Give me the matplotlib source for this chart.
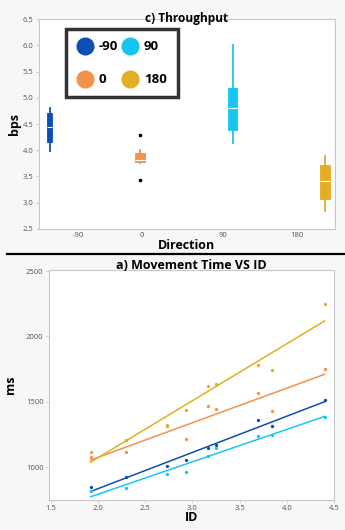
"""Throughput box plot and movement time vs ID, two stacked JMP-style panels."""

import matplotlib.pyplot as plt
import numpy as np
from matplotlib.lines import Line2D

# ---- data -------------------------------------------------------------
directions = ["-90", "0", "90", "180"]
colors = ["#0b4eb6", "#f3924b", "#17c6f0", "#e5ad24"]  # -90, 0, 90, 180

# throughput (bps) box statistics per direction
tp_whislo = [3.99, 3.75, 4.14, 2.84]
tp_q1 = [4.16, 3.77, 4.38, 3.08]
tp_med = [4.44, 3.81, 4.81, 3.41]
tp_q3 = [4.71, 3.94, 5.19, 3.71]
tp_whishi = [4.81, 4.00, 6.00, 3.89]
tp_fliers = [[], [4.29, 3.43], [], []]

# movement time (ms) vs index of difficulty
ids = [1.92, 2.30, 2.73, 2.93, 3.16, 3.25, 3.70, 3.84, 4.40]
mt_m90 = [849, 926, 1010, 1054, 1146, 1171, 1363, 1317, 1516]
mt_0 = [1081, 1112, 1311, 1215, 1465, 1447, 1564, 1432, 1754]
mt_90 = [818, 839, 951, 966, 1084, 1146, 1235, 1248, 1383]
mt_180 = [1115, 1204, 1324, 1434, 1621, 1637, 1779, 1746, 2249]

# ---- layout (fractions of axes width) ---------------------------------
tick_pos = [0.132, 0.348, 0.622, 0.872]
box_pos = [0.036, 0.342, 0.654, 0.967]
box_w = [0.018, 0.032, 0.033, 0.032]

plt.rcParams["font.family"] = ["Open Sans", "DejaVu Sans"]
tick_col = "#555555"
spine_col = "#c8c8c8"

fig = plt.figure(figsize=(3.45, 5.30), dpi=100, facecolor="#f7f7f7")


def style_axes(ax):
    for s in ax.spines.values():
        s.set_color(spine_col)
        s.set_linewidth(0.8)
    ax.tick_params(colors=spine_col, labelcolor=tick_col, labelsize=5.5,
                   length=2, width=0.6, pad=2)


# ---- top: throughput --------------------------------------------------
ax1 = fig.add_axes([0.113, 0.568, 0.858, 0.396])
ax1.set_facecolor("white")
stats = []
for i in range(4):
    stats.append(dict(med=tp_med[i], q1=tp_q1[i], q3=tp_q3[i],
                      whislo=tp_whislo[i], whishi=tp_whishi[i],
                      fliers=tp_fliers[i]))
bp = ax1.bxp(stats, positions=box_pos, widths=box_w, patch_artist=True,
             showcaps=False, manage_ticks=False,
             medianprops=dict(color="white", linewidth=0.8),
             flierprops=dict(marker="o", markersize=1.6,
                             markerfacecolor="black", markeredgecolor="black"))
for i, c in enumerate(colors):
    bp["boxes"][i].set(facecolor=c, edgecolor=c, linewidth=0.6)
    bp["whiskers"][2 * i].set(color=c, linewidth=1.3)
    bp["whiskers"][2 * i + 1].set(color=c, linewidth=1.3)

ax1.set_xlim(0, 1)
ax1.set_ylim(2.5, 6.5)
ax1.set_xticks(tick_pos)
ax1.set_xticklabels(directions)
ax1.set_yticks(np.arange(2.5, 6.51, 0.5))
ax1.set_yticklabels([f"{v:.1f}" for v in np.arange(2.5, 6.51, 0.5)])
style_axes(ax1)
ax1.tick_params(axis="x", length=0)
ax1.set_ylabel("bps", fontsize=9, fontweight="bold", labelpad=1)
ax1.set_xlabel("Direction", fontsize=9, fontweight="bold", labelpad=0)
ax1.set_title("c) Throughput", fontsize=8.6, fontweight="bold", pad=0, y=0.985)

handles = [Line2D([], [], marker="o", linestyle="none", markersize=12,
                  markerfacecolor=c, markeredgecolor=c) for c in colors]
leg = ax1.legend(handles, directions, ncol=2, loc="upper left",
                 bbox_to_anchor=(0.091, 0.952), borderaxespad=0,
                 frameon=True, fancybox=False,
                 prop=dict(weight="bold", size=9.5), handlelength=1.2,
                 handletextpad=0.45, columnspacing=0.3, borderpad=0.85,
                 labelspacing=1.5)
leg.get_frame().set_edgecolor("black")
leg.get_frame().set_linewidth(2.5)

# ---- bottom: movement time vs ID --------------------------------------
ax2 = fig.add_axes([0.142, 0.057, 0.826, 0.434])
ax2.set_facecolor("white")
x = np.array(ids)
xs = np.array([x.min(), x.max()])
for series, c in zip([mt_m90, mt_0, mt_90, mt_180], colors):
    y = np.array(series)
    k, b = np.polyfit(x, y, 1)
    ax2.plot(xs, k * xs + b, color=c, linewidth=1.1)
    ax2.plot(x, y, "o", color=c, markersize=2.4, markeredgewidth=0)

ax2.set_xlim(1.48, 4.5)
ax2.set_ylim(750, 2510)
ax2.set_xticks(np.arange(1.5, 4.51, 0.5))
ax2.set_xticklabels([f"{v:.1f}" for v in np.arange(1.5, 4.51, 0.5)])
ax2.set_yticks([1000, 1500, 2000, 2500])
style_axes(ax2)
ax2.set_ylabel("ms", fontsize=9, fontweight="bold", labelpad=6)
ax2.set_xlabel("ID", fontsize=9, fontweight="bold", labelpad=-1)
ax2.set_title("a) Movement Time VS ID", fontsize=9, fontweight="bold",
              pad=0.5, y=1.0)

# separator between panels
fig.add_artist(Line2D([0.02, 1.0], [0.521, 0.521], color="black",
                      linewidth=1.6, transform=fig.transFigure))

fig.savefig("out.png", dpi=100, facecolor=fig.get_facecolor())
